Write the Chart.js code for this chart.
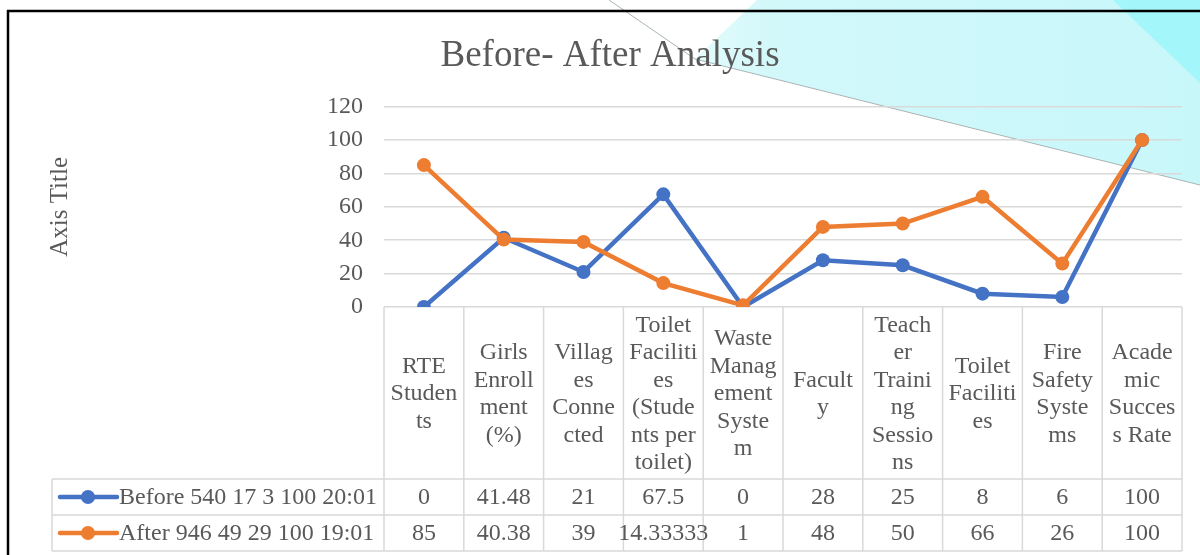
<!DOCTYPE html>
<html><head><meta charset="utf-8">
<script src="https://cdn.jsdelivr.net/npm/chart.js@4/dist/chart.umd.min.js"></script>
<style>html,body{margin:0;padding:0;background:#fff;overflow:hidden}canvas{display:block}</style>
</head><body>
<canvas id="c" width="1200" height="555"></canvas>
<script>
// ---------- data ----------
const categories = ["RTE Students", "Girls Enrollment (%)", "Villages Connected",
  "Toilet Facilities (Students per toilet)", "Waste Management System", "Faculty",
  "Teacher Training Sessions", "Toilet Facilities", "Fire Safety Systems", "Academic Success Rate"];
const categoryLines = [
  ["RTE", "Studen", "ts"],
  ["Girls", "Enroll", "ment", "(%)"],
  ["Villag", "es", "Conne", "cted"],
  ["Toilet", "Faciliti", "es", "(Stude", "nts per", "toilet)"],
  ["Waste", "Manag", "ement", "Syste", "m"],
  ["Facult", "y"],
  ["Teach", "er", "Traini", "ng", "Sessio", "ns"],
  ["Toilet", "Faciliti", "es"],
  ["Fire", "Safety", "Syste", "ms"],
  ["Acade", "mic", "Succes", "s Rate"]
];
const seriesNames = ["Before 540 17 3 100 20:01", "After 946 49 29 100 19:01"];
const beforeValues = [0, 41.48, 21, 67.5, 0, 28, 25, 8, 6, 100];
const afterValues = [85, 40.38, 39, 14.33333, 1, 48, 50, 66, 26, 100];
const yMin = 0, yMax = 120, yStep = 20;
const chartTitle = "Before- After Analysis";
const yAxisTitle = "Axis Title";

// ---------- style ----------
const FONT = "'Liberation Serif', 'Times New Roman', serif";
const TXT = "#595959";
const GRID = "#d9d9d9";
const BLUE = "#4472C4";
const ORANGE = "#ED7D31";

const decorPlugin = {
  id: 'decor',
  beforeDraw(chart) {
    const ctx = chart.ctx;
    ctx.save();
    ctx.fillStyle = '#ffffff';
    ctx.fillRect(0, 0, chart.width, chart.height);
    // light cyan panel
    const g = ctx.createLinearGradient(700, 40, 1200, 40);
    g.addColorStop(0, '#e2fbfc');
    g.addColorStop(0.15, '#d2f8fa');
    g.addColorStop(1, '#c8f7fa');
    ctx.fillStyle = g;
    ctx.beginPath();
    ctx.moveTo(757, 0); ctx.lineTo(1200, 0); ctx.lineTo(1200, 185); ctx.lineTo(695, 59);
    ctx.closePath(); ctx.fill();
    // darker cyan corner
    ctx.fillStyle = '#a3f6f9';
    ctx.beginPath();
    ctx.moveTo(1113, 0); ctx.lineTo(1200, 0); ctx.lineTo(1200, 83);
    ctx.closePath(); ctx.fill();
    // thin grey edges
    ctx.strokeStyle = '#a9b4b6';
    ctx.lineWidth = 1;
    ctx.beginPath();
    ctx.moveTo(695, 59); ctx.lineTo(1200, 185);
    ctx.moveTo(609, 0); ctx.lineTo(695, 59);
    ctx.stroke();
    // chart title
    ctx.fillStyle = TXT;
    ctx.font = "37px " + FONT;
    ctx.textAlign = 'center';
    ctx.textBaseline = 'alphabetic';
    ctx.fillText(chartTitle, 610, 66);
    ctx.restore();
  },
  afterDraw(chart) {
    const ctx = chart.ctx;
    ctx.save();
    ctx.strokeStyle = '#000';
    ctx.lineWidth = 2.5;
    ctx.beginPath();
    ctx.moveTo(7, 11); ctx.lineTo(1200, 11);
    ctx.moveTo(8, 10); ctx.lineTo(8, 555);
    ctx.stroke();
    ctx.restore();
  }
};

const tablePlugin = {
  id: 'dataTable',
  beforeDatasetsDraw(chart) {
    const ctx = chart.ctx;
    const a = chart.chartArea;
    const xs = chart.scales.x;
    const n = categories.length;
    const colW = (a.right - a.left) / n;
    const hdrBottom = a.bottom + 172;
    const rowH = 36;
    const r1 = hdrBottom + rowH, r2 = r1 + rowH;
    const legLeft = 52;
    ctx.save();
    ctx.strokeStyle = GRID;
    ctx.lineWidth = 1.5;
    ctx.beginPath();
    for (let i = 0; i <= n; i++) {
      const x = a.left + i * colW;
      ctx.moveTo(x, a.bottom); ctx.lineTo(x, r2);
    }
    ctx.moveTo(legLeft, hdrBottom); ctx.lineTo(legLeft, r2);
    [hdrBottom, r1, r2].forEach(y => { ctx.moveTo(legLeft, y); ctx.lineTo(a.right, y); });
    ctx.stroke();

    ctx.fillStyle = TXT;
    ctx.font = "24px " + FONT;
    ctx.textAlign = 'center';
    ctx.textBaseline = 'middle';
    const lh = 27.5;
    const hdrMid = (a.bottom + hdrBottom) / 2 + 1;
    categoryLines.forEach((lines, i) => {
      const cx = xs.getPixelForValue(i);
      const y0 = hdrMid - (lines.length - 1) * lh / 2;
      lines.forEach((t, k) => ctx.fillText(t, cx, y0 + k * lh));
    });
    const rows = [[beforeValues, BLUE, seriesNames[0]], [afterValues, ORANGE, seriesNames[1]]];
    rows.forEach(([vals, col, name], r) => {
      const cy = hdrBottom + rowH * r + rowH / 2 + 1;
      ctx.textAlign = 'center';
      ctx.fillStyle = TXT;
      vals.forEach((v, i) => ctx.fillText(String(v), xs.getPixelForValue(i), cy));
      // legend key
      ctx.strokeStyle = col; ctx.lineWidth = 4.5; ctx.lineCap = 'round';
      ctx.beginPath(); ctx.moveTo(60, cy - 1); ctx.lineTo(117, cy - 1); ctx.stroke();
      ctx.fillStyle = col;
      ctx.beginPath(); ctx.arc(88, cy - 1, 7, 0, Math.PI * 2); ctx.fill();
      ctx.fillStyle = TXT;
      ctx.textAlign = 'left';
      ctx.fillText(name, 119, cy);
    });
    ctx.restore();
  }
};

new Chart(document.getElementById('c'), {
  type: 'line',
  data: {
    labels: categories,
    datasets: [
      { label: seriesNames[0], data: beforeValues, borderColor: BLUE, backgroundColor: BLUE,
        borderWidth: 4.5, pointRadius: 7, pointBackgroundColor: BLUE, pointBorderWidth: 0,
        tension: 0, order: 2 },
      { label: seriesNames[1], data: afterValues, borderColor: ORANGE, backgroundColor: ORANGE,
        borderWidth: 4.5, pointRadius: 7, pointBackgroundColor: ORANGE, pointBorderWidth: 0,
        tension: 0, order: 1 }
    ]
  },
  options: {
    responsive: false,
    animation: false,
    layout: { padding: { left: 0, right: 18, top: 106.7, bottom: 0 } },
    plugins: {
      legend: { display: false },
      tooltip: { enabled: false },
      title: { display: false }
    },
    scales: {
      x: { type: 'category', offset: true, grid: { display: false }, border: { display: false },
        ticks: { display: false }, afterFit(s) { s.height = 248; } },
      y: { min: yMin, max: yMax,
        ticks: { stepSize: yStep, color: TXT, font: { family: FONT, size: 24 }, padding: 21 },
        grid: { color: GRID, lineWidth: 1.5, drawTicks: false }, border: { display: false },
        title: { display: true, text: yAxisTitle, color: TXT, font: { family: FONT, size: 25 },
          padding: { top: 45 } },
        afterFit(s) { s.width = 384; } }
    }
  },
  plugins: [decorPlugin, tablePlugin]
});
</script>
</body></html>
